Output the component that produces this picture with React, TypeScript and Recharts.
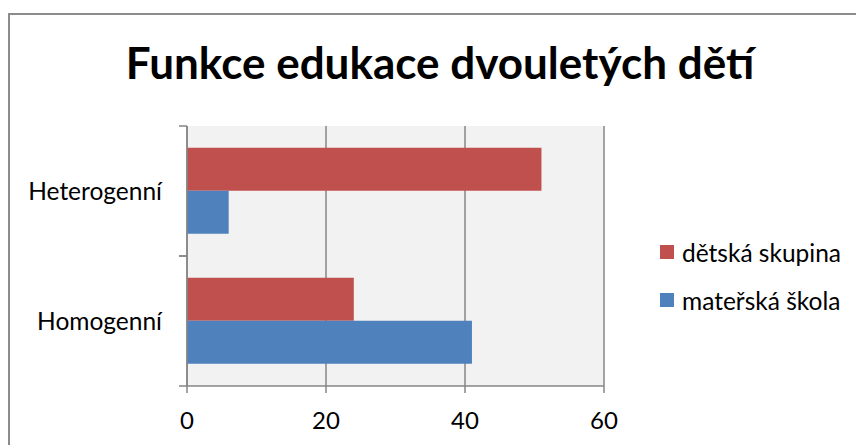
import { BarChart, Bar, XAxis, YAxis, CartesianGrid } from 'recharts'

const categories = ['Heterogenní', 'Homogenní']
const seriesNames = ['dětská skupina', 'mateřská škola']
const detskaSkupina = [51, 24]
const materskaSkola = [6, 41]
const xTicks = [0, 20, 40, 60]

const colors = ['#C0504D', '#4F81BD']
const FONT = 'Lato, "Open Sans", sans-serif'
const AXIS = '#868686'

const data = categories.map((name, i) => ({
  name,
  a: detskaSkupina[i],
  b: materskaSkola[i],
}))

// category label plus the Excel-style ticks on the band edges
function CategoryTick(props: any) {
  const { x, y, payload } = props
  const half = payload?.offset || 65
  const axisX = x + 25
  return (
    <g>
      <text x={x} y={y} dy="0.36em" textAnchor="end" fontSize={24.5} fontFamily={FONT} fill="#000">
        {payload.value}
      </text>
      <line x1={axisX - 8} x2={axisX} y1={y - half} y2={y - half} stroke={AXIS} strokeWidth={1.5} />
      <line x1={axisX - 8} x2={axisX} y1={y + half} y2={y + half} stroke={AXIS} strokeWidth={1.5} />
    </g>
  )
}

export default function App() {
  return (
    <div style={{ position: 'absolute', left: 0, top: 0, width: 856, height: 445, background: '#fff', overflow: 'hidden' }}>
      <div
        style={{
          position: 'absolute',
          left: 8,
          top: 13,
          width: 900,
          height: 500,
          borderLeft: '2px solid #8c8c8c',
          borderTop: '2px solid #8c8c8c',
        }}
      />
      <div
        style={{
          position: 'absolute',
          left: 0,
          width: 880,
          top: 34,
          textAlign: 'center',
          fontFamily: FONT,
          fontWeight: 700,
          fontSize: 44,
          lineHeight: '56px',
          color: '#000',
          whiteSpace: 'nowrap',
        }}
      >
        Funkce edukace dvouletých dětí
      </div>
      <div style={{ position: 'absolute', left: 0, top: 0 }}>
        <BarChart
          layout="vertical"
          width={856}
          height={445}
          data={data}
          margin={{ top: 126, right: 252, bottom: 29, left: 0 }}
          barCategoryGap="16.67%"
          barGap={0}
        >
          <CartesianGrid horizontal={false} stroke={AXIS} strokeWidth={1.5} fill="#F2F2F2" />
          <XAxis
            type="number"
            domain={[0, 60]}
            ticks={xTicks}
            height={30}
            tickSize={7}
            tickMargin={19}
            axisLine={{ stroke: AXIS, strokeWidth: 1.5 }}
            tickLine={{ stroke: AXIS, strokeWidth: 1.5 }}
            tick={{ fill: '#000', fontSize: 24, fontFamily: FONT }}
          />
          <YAxis
            type="category"
            dataKey="name"
            width={187}
            tickSize={8}
            tickMargin={17}
            tickLine={false}
            axisLine={{ stroke: AXIS, strokeWidth: 1.5 }}
            tick={<CategoryTick />}
          />
          <Bar dataKey="a" name={seriesNames[0]} fill={colors[0]} isAnimationActive={false} />
          <Bar dataKey="b" name={seriesNames[1]} fill={colors[1]} isAnimationActive={false} />
        </BarChart>
      </div>
      {seriesNames.map((s, i) => (
        <div
          key={s}
          style={{
            position: 'absolute',
            left: 660,
            top: 237 + i * 48,
            height: 30,
            display: 'flex',
            alignItems: 'center',
            fontFamily: FONT,
            fontSize: 24.5,
            color: '#000',
            whiteSpace: 'nowrap',
          }}
        >
          <span style={{ display: 'inline-block', width: 14, height: 14, background: colors[i], marginRight: 8 }} />
          {s}
        </div>
      ))}
    </div>
  )
}
